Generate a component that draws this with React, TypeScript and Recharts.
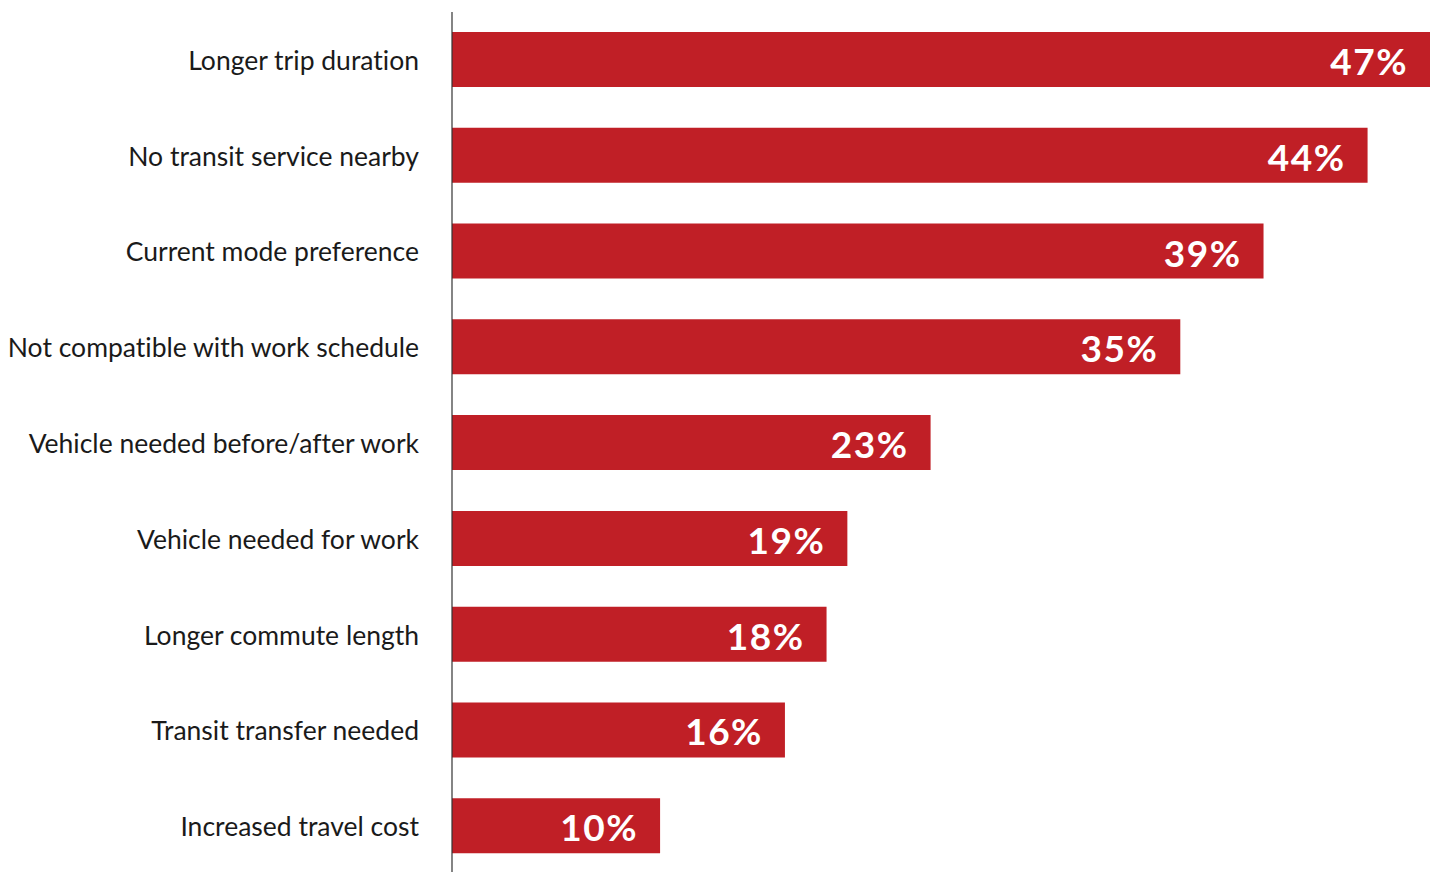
import { BarChart, Bar, XAxis, YAxis, LabelList } from 'recharts'

const categories = [
  'Longer trip duration',
  'No transit service nearby',
  'Current mode preference',
  'Not compatible with work schedule',
  'Vehicle needed before/after work',
  'Vehicle needed for work',
  'Longer commute length',
  'Transit transfer needed',
  'Increased travel cost',
]

const shares = [47, 44, 39, 35, 23, 19, 18, 16, 10]

const data = categories.map((name, i) => ({ name, value: shares[i] }))

const RED = '#C01F26'

const CategoryTick = ({ x, y, payload }: any) => (
  <text
    x={x}
    y={y}
    textAnchor="end"
    dominantBaseline="central"
    fill="#1a1a1a"
    fontSize={26.5}
    fontFamily="Lato, 'Noto Sans', sans-serif"
    style={{ fontVariantLigatures: 'none' }}
  >
    {payload.value}
  </text>
)

const ValueLabel = ({ x, y, width, height, value }: any) => (
  <text
    x={x + width - 22}
    y={y + height / 2 + 1}
    textAnchor="end"
    dominantBaseline="central"
    fill="#ffffff"
    fontSize={37}
    fontWeight={700}
    letterSpacing={1.5}
    fontFamily="Lato, 'Noto Sans', sans-serif"
  >
    {`${value}%`}
  </text>
)

export default function App() {
  return (
    <div
      style={{
        position: 'fixed',
        top: 0,
        left: 0,
        width: 1434,
        height: 872,
        overflow: 'hidden',
        background: '#fff',
      }}
    >
      <BarChart
        width={1434}
        height={874}
        data={data}
        layout="vertical"
        margin={{ top: 12, right: 4, bottom: 0, left: 0 }}
        barSize={55}
      >
        <XAxis type="number" domain={[0, 47]} hide />
        <YAxis
          type="category"
          dataKey="name"
          width={452}
          tickLine={false}
          tickSize={0}
          tickMargin={33}
          axisLine={{ stroke: '#333', strokeWidth: 1.2 }}
          tick={<CategoryTick />}
          interval={0}
        />
        <Bar dataKey="value" fill={RED} isAnimationActive={false}>
          <LabelList dataKey="value" content={<ValueLabel />} />
        </Bar>
      </BarChart>
    </div>
  )
}
